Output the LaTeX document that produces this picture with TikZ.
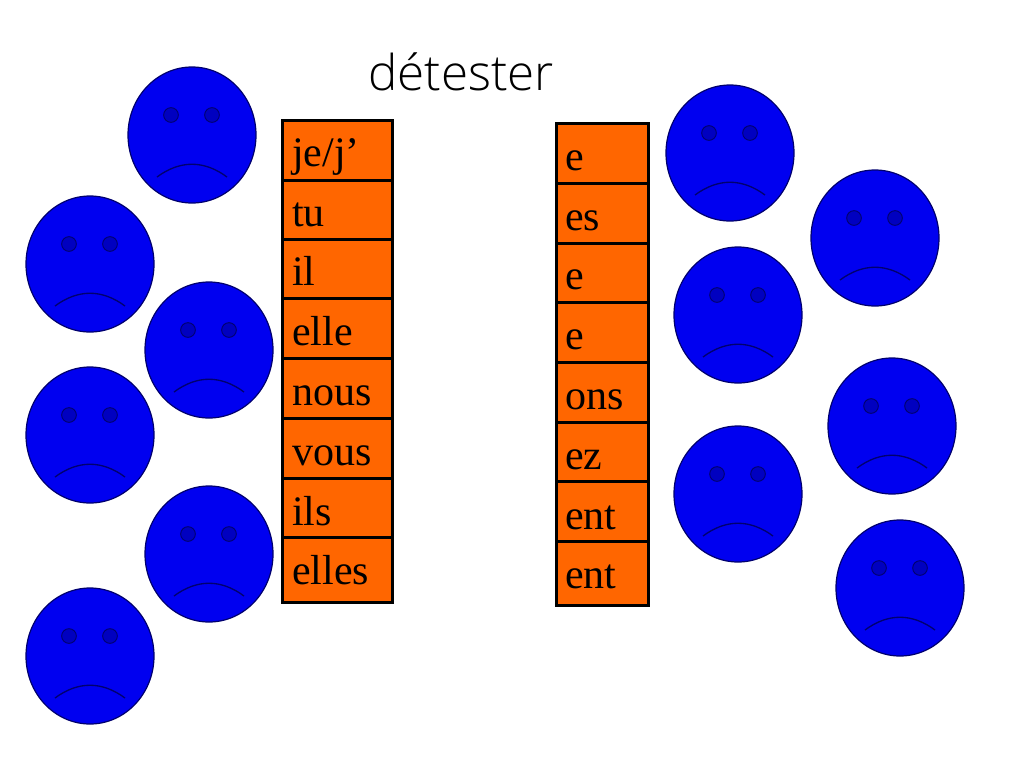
\documentclass[tikz,border=0pt]{standalone}
\usepackage{fontspec}
\setmainfont{Liberation Serif}
\newfontfamily\titlefont{Open Sans Light}
\definecolor{faceblue}{RGB}{0,0,240}
\definecolor{eyeblue}{RGB}{0,0,192}
\definecolor{lineblue}{RGB}{0,0,110}
\definecolor{cellorange}{RGB}{255,102,0}
\usetikzlibrary{shapes.geometric}
\tikzset{
  x=0.75pt,y=-0.75pt,
  facebody/.style={ellipse,draw=lineblue,line width=0.9pt,fill=faceblue,minimum width=96pt,minimum height=102pt,inner sep=0pt},
  cellbox/.style={draw=black,line width=2.3pt,fill=cellorange,inner sep=0pt},
  celltext/.style={anchor=base west,inner sep=0pt,font=\fontsize{31.5pt}{36pt}\selectfont},
  eyeshape/.style={circle,draw=lineblue,line width=0.7pt,fill=eyeblue,minimum size=11pt,inner sep=0pt},
}
\newcommand{\sadface}[3]{%
  \node[facebody] (#1) at (#2,#3) {};
  \node[eyeshape] (#1el) at (#2-21,#3-20) {};
  \node[eyeshape] (#1er) at (#2+20,#3-20) {};
  \draw[draw=lineblue,line width=1pt] (#2-35,#3+42) .. controls (#2-12,#3+25) and (#2+12,#3+25) .. (#2+35,#3+42);
}
\begin{document}
\begin{tikzpicture}
\useasboundingbox (0,0) rectangle (1024,768);
\node[anchor=base,inner sep=0pt,font=\titlefont\fontsize{37pt}{44pt}\selectfont] (title) at (461,90) {détester};

\sadface{fa}{192}{135}
\sadface{fb}{90}{264}
\sadface{fc}{209}{350}
\sadface{fd}{90}{435}
\sadface{fe}{209}{554}
\sadface{ff}{90}{656}
\sadface{fg}{730}{153}
\sadface{fh}{875}{238}
\sadface{fi}{738}{315}
\sadface{fj}{892}{426}
\sadface{fk}{738}{494}
\sadface{fl}{900}{588}

\foreach \n/\t/\h/\b/\w in {a/119/60/166/je\slash j’,b/179/59/226/tu,c/238/59/285/il,d/297/60/345/elle,e/357/60/405/nous,f/417/60/465/vous,g/477/59/525/ils,h/536/65/584/elles}{
  \node[cellbox,minimum width=82.5pt,minimum height=\h*0.75pt,anchor=north west] (l\n) at (280.5,\t) {};
  \node[celltext] (lt\n) at (292,\b) {\w};
}
\foreach \n/\t/\h/\b/\w in {a/122/60/170/e,b/182/60/230/es,c/242/59/289/e,d/301/60/349/e,e/361/60/409/ons,f/421/59/469/ez,g/480/60/529/ent,h/540/64/588/ent}{
  \node[cellbox,minimum width=69pt,minimum height=\h*0.75pt,anchor=north west] (r\n) at (554.5,\t) {};
  \node[celltext] (rt\n) at (565,\b) {\w};
}
\end{tikzpicture}
\end{document}
